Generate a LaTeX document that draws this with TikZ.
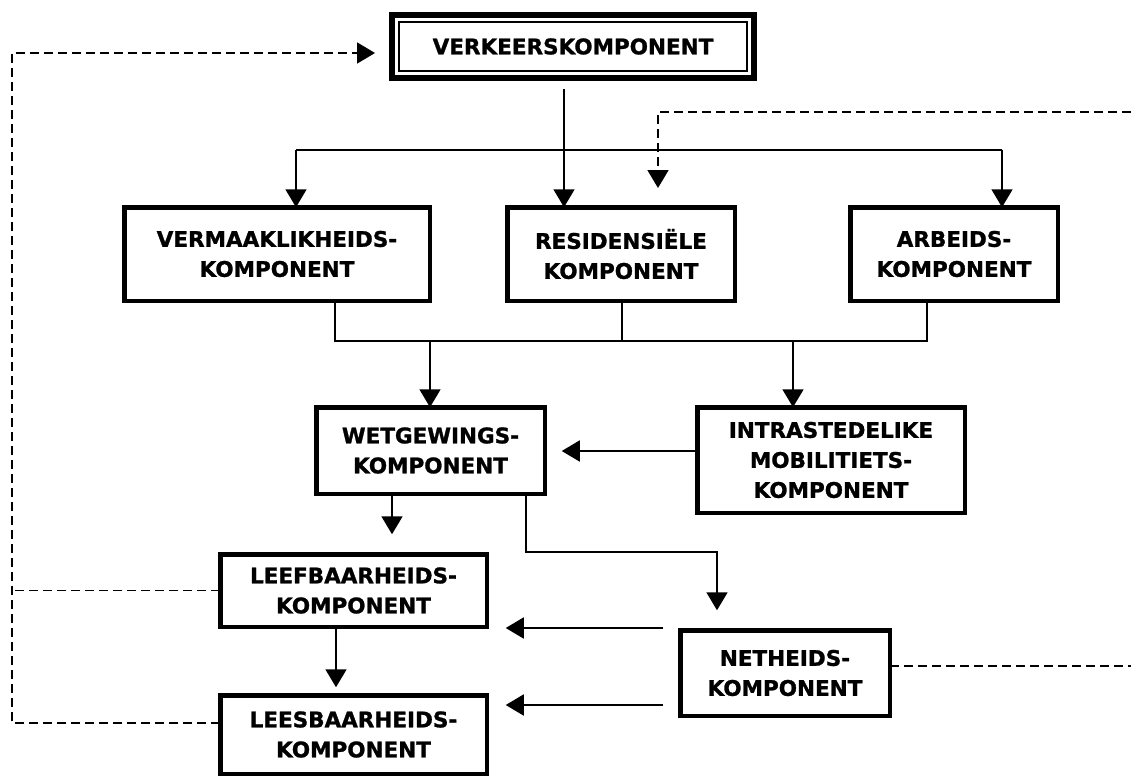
\documentclass[tikz,border=0pt]{standalone}
\usepackage{fontspec}
\setmainfont{DejaVu Sans}[BoldFeatures={FakeBold=1.2}]
\usetikzlibrary{arrows.meta,calc}
\begin{document}
\begin{tikzpicture}[x=1pt,y=-1pt,
  box/.style={draw, line width=4.5pt, outer sep=0pt, inner sep=0pt, align=center,
    font=\fontsize{21.5}{30}\selectfont\bfseries},
  link/.style={line width=1.8pt},
  arr/.style={link, -{Triangle[length=18pt,width=21pt]}},
  fb/.style={line width=1.8pt, dash pattern=on 9pt off 5pt},
  fbarr/.style={fb, -{Triangle[length=18pt,width=21pt]}}
]
\useasboundingbox (0,0) rectangle (1131,781);

% boxes
\node[box, line width=6pt, minimum width=362pt, minimum height=63pt] (V) at (573,46.5) {VERKEERSKOMPONENT};
\draw[line width=1.6pt] ($(V.north west)+(7,7)$) rectangle ($(V.south east)+(-7,-7)$);

\node[box, minimum width=305.5pt, minimum height=93.5pt] (VM) at (277,254) {VERMAAKLIKHEIDS-\\KOMPONENT};
\node[box, minimum width=227.5pt, minimum height=93.5pt] (RS) at (621,254) {RESIDENSIËLE\\KOMPONENT};
\node[box, minimum width=207.5pt, minimum height=93.5pt] (AR) at (954,254) {ARBEIDS-\\KOMPONENT};
\node[box, minimum width=228.5pt, minimum height=86.5pt] (WG) at (430.5,450.5) {WETGEWINGS-\\KOMPONENT};
\node[box, minimum width=267.5pt, minimum height=105.5pt] (IN) at (831,460) {INTRASTEDELIKE\\MOBILITIETS-\\KOMPONENT};
\node[box, minimum width=266.5pt, minimum height=72.5pt] (LF) at (353.5,590.5) {LEEFBAARHEIDS-\\KOMPONENT};
\node[box, minimum width=266.5pt, minimum height=78.5pt] (LS) at (353.5,734.5) {LEESBAARHEIDS-\\KOMPONENT};
\node[box, minimum width=209.5pt, minimum height=85.5pt] (NT) at (785,673) {NETHEIDS-\\KOMPONENT};

% helper coordinates
\coordinate (lc) at (12,0);
\coordinate (re) at (1131,0);
\coordinate (bl) at (296,150);
\coordinate (br) at (1002,150);
\coordinate (vt) at ($(V.south)+(-9,11)$);
\coordinate (rin) at (1131,112);
\coordinate (rdrop) at (658,112);
\coordinate (rend) at (658,188);
\coordinate (ma) at (335,341);
\coordinate (mb) at (622,341);
\coordinate (mc) at (927,341);
\coordinate (mw) at (430,341);
\coordinate (mi) at (793,341);
\coordinate (iw) at ($(IN.west)+(0,-9)$);
\coordinate (wl) at (392,0);
\coordinate (wn) at (526,552);
\coordinate (nt) at (717,552);
\coordinate (ll) at (336,0);
\coordinate (n1) at ($(NT.west)+(0,-45)$);
\coordinate (n2) at ($(NT.west)+(0,32)$);
\coordinate (sl) at ($(LS.west)+(0,-11.5)$);
\coordinate (vl) at ($(V.west)+(0,6.5)$);
\coordinate (nr) at ($(NT.east)+(0,-7)$);

% top distribution
\draw[arr] (vt) -- (vt |- RS.north);
\draw[link] (bl) -- (br);
\draw[arr] (bl) -- (bl |- VM.north);
\draw[arr] (br) -- (br |- AR.north);
\draw[fbarr] (rin) -- (rdrop) -- (rend);

% merge of the three components
\draw[link] (ma |- VM.south) -- (ma) -- (mc) -- (mc |- AR.south);
\draw[link] (mb |- RS.south) -- (mb);
\draw[arr] (mw) -- (mw |- WG.north);
\draw[arr] (mi) -- (mi |- IN.north);

% middle and lower links
\draw[arr, shorten >=17pt] (iw) -- (iw -| WG.east);
\draw[arr, shorten >=20pt] (wl |- WG.south) -- (wl |- LF.north);
\draw[arr, shorten >=20pt] (wn |- WG.south) -- (wn) -- (nt) -- (nt |- NT.north);
\draw[arr, shorten >=8pt] (ll |- LF.south) -- (ll |- LS.north);
\draw[arr, shorten <=17pt, shorten >=19pt] (n1) -- (n1 -| LF.east);
\draw[arr, shorten <=17pt, shorten >=19pt] (n2) -- (n2 -| LS.east);

% feedback loops
\draw[fbarr, shorten >=17pt] (sl) -- (sl -| lc) -- (vl -| lc) -- (vl);
\draw[fb] (LF.west) -- (LF.west -| lc);
\draw[fb] (nr) -- (nr -| re);
\end{tikzpicture}
\end{document}
